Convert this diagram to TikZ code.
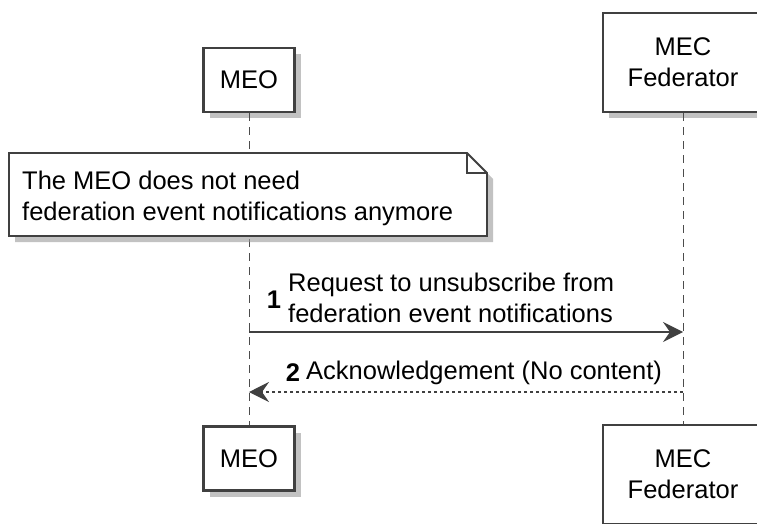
\documentclass[tikz,border=0pt]{standalone}
\usepackage{fontspec}
\setmainfont{Liberation Sans}
\usetikzlibrary{arrows.meta,shadows}

\tikzset{
  actor/.style={draw=black!75, line width=2.5pt, fill=white, inner sep=0pt, align=center,
    drop shadow={shadow xshift=6pt, shadow yshift=-6pt, fill=black!40, opacity=.6}},
  lifeline/.style={draw=black!70, line width=1pt, dash pattern=on 8pt off 6pt},
  msg/.style={draw=black!75, line width=1.5pt, -{Stealth[length=20pt,width=20pt,inset=7pt]}},
  reply/.style={msg, dash pattern=on 3pt off 3pt},
  notebox/.style={draw=black!75, line width=1.8pt, fill=white,
    drop shadow={shadow xshift=6pt, shadow yshift=-6pt, fill=black!40, opacity=.6}},
  label/.style={inner sep=0pt, align=left}
}

\begin{document}
\begin{tikzpicture}[x=1pt, y=-1pt, font=\fontsize{25.5}{31}\selectfont]
  \clip (0,0) rectangle (757,524);

  \node[actor, minimum width=91pt, minimum height=64pt] (meo) at (249,80) {MEO};
  \node[actor, minimum width=160pt, minimum height=99pt] (fed) at (683,62.5) {MEC\\Federator};

  \node[actor, minimum width=91pt, minimum height=64pt] (meo2) at (249,458.5) {MEO};
  \node[actor, minimum width=160pt, minimum height=99pt] (fed2) at (683,474.5) {MEC\\Federator};

  \draw[lifeline] (meo) -- (meo2);
  \draw[lifeline] (fed) -- (fed2);

  % note over MEO
  \filldraw[notebox] (9,153) -- (467,153) -- (487,173) -- (487,236) -- (9,236) -- cycle;
  \draw[draw=black!75, line width=1.8pt] (467,153) -- (467,173) -- (487,173);
  \node[label, anchor=west] (note) at (22,198) {The MEO does not need\\federation event notifications anymore};

  \coordinate (req-a) at (249,332);
  \coordinate (req-b) at (683,332);
  \draw[msg] (req-a) -- (req-b);
  \node[label] (num1) at (274,300) {\bfseries 1};
  \node[label, anchor=west] (req) at (288,297.5) {Request to unsubscribe from\\federation event notifications};

  \coordinate (ack-a) at (683,392);
  \coordinate (ack-b) at (249,392);
  \draw[reply] (ack-a) -- (ack-b);
  \node[label] (num2) at (293,373) {\bfseries 2};
  \node[label, anchor=west] (ack) at (306,373) {Acknowledgement (No content)};
\end{tikzpicture}
\end{document}
